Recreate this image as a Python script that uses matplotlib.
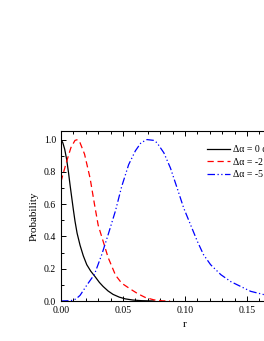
import matplotlib.pyplot as plt
from matplotlib.ticker import MultipleLocator

plt.rcParams["font.family"] = ["Liberation Serif", "DejaVu Serif"]
plt.rcParams["font.size"] = 7

# curves (r, probability)
r_0 = [0.0, 0.0015, 0.003, 0.0045, 0.006, 0.0073, 0.0086, 0.01, 0.0113, 0.013,
       0.0154, 0.018, 0.0208, 0.024, 0.0276, 0.031, 0.034, 0.038, 0.042, 0.047,
       0.052, 0.058, 0.065, 0.075]
p_0 = [1.0, 0.98, 0.94, 0.88, 0.80, 0.72, 0.645, 0.565, 0.495, 0.42, 0.345,
       0.28, 0.225, 0.185, 0.15, 0.115, 0.09, 0.062, 0.041, 0.024, 0.013,
       0.006, 0.002, 0.0]

r_2 = [0.0, 0.004, 0.008, 0.0113, 0.0135, 0.0154, 0.019, 0.0235, 0.027, 0.030,
       0.034, 0.038, 0.044, 0.049, 0.056, 0.062, 0.068, 0.075, 0.082, 0.088]
p_2 = [0.74, 0.85, 0.95, 0.995, 1.0, 0.98, 0.91, 0.76, 0.60, 0.47, 0.37, 0.27,
       0.16, 0.11, 0.074, 0.045, 0.022, 0.007, 0.001, 0.0]

r_5 = [0.0, 0.008, 0.012, 0.0154, 0.021, 0.027, 0.033, 0.038, 0.044, 0.049,
       0.0546, 0.06, 0.0645, 0.0694, 0.075, 0.0775, 0.083, 0.0883, 0.0937,
       0.099, 0.1045, 0.110, 0.115, 0.1207, 0.129, 0.137, 0.145, 0.153, 0.164,
       0.175, 0.19]
p_5 = [0.0, 0.002, 0.012, 0.035, 0.10, 0.165, 0.29, 0.41, 0.56, 0.71, 0.845,
       0.93, 0.98, 1.0, 0.995, 0.98, 0.918, 0.824, 0.70, 0.576, 0.473, 0.37,
       0.287, 0.225, 0.163, 0.12, 0.09, 0.06, 0.039, 0.022, 0.01]

labels = ["\u0394\u03b1 = 0 deg", "\u0394\u03b1 = -2 deg", "\u0394\u03b1 = -5 deg"]

fig = plt.figure(figsize=(2.64, 3.41), dpi=100)
ax = fig.add_axes([0.231, 0.1173, 0.939, 0.4994])

ax.plot(r_0, p_0, color="black", linestyle="-", linewidth=0.9, label=labels[0])
ax.plot(r_2, p_2, color="red", linestyle=(0, (5, 3)), linewidth=0.9, label=labels[1])
ax.plot(r_5, p_5, color="blue", linestyle=(0, (6, 2, 1, 2, 1, 2)), linewidth=0.9,
        label=labels[2])

ax.set_xlim(0, 0.2)
ax.set_ylim(0, 1.055)
ax.xaxis.set_major_locator(MultipleLocator(0.05))
ax.xaxis.set_minor_locator(MultipleLocator(0.01))
ax.yaxis.set_major_locator(MultipleLocator(0.2))
ax.yaxis.set_minor_locator(MultipleLocator(0.1))
ax.xaxis.set_major_formatter(lambda v, pos: f"{v:.2f}")
ax.yaxis.set_major_formatter(lambda v, pos: f"{v:.1f}")
ax.tick_params(which="both", direction="in", top=True, right=True, width=0.7)
ax.tick_params(which="major", length=3.5)
ax.tick_params(which="minor", length=2)
for s in ax.spines.values():
    s.set_linewidth(0.8)

ax.set_xlabel("r", fontsize=8)
ax.set_ylabel("Probability", fontsize=8)

fig.legend(loc="upper left", bbox_to_anchor=(0.784, 0.574), frameon=False,
           borderpad=0, borderaxespad=0, handlelength=2.4, handletextpad=0.3,
           labelspacing=0.35, fontsize=7)

plt.savefig("out.png", dpi=100)
